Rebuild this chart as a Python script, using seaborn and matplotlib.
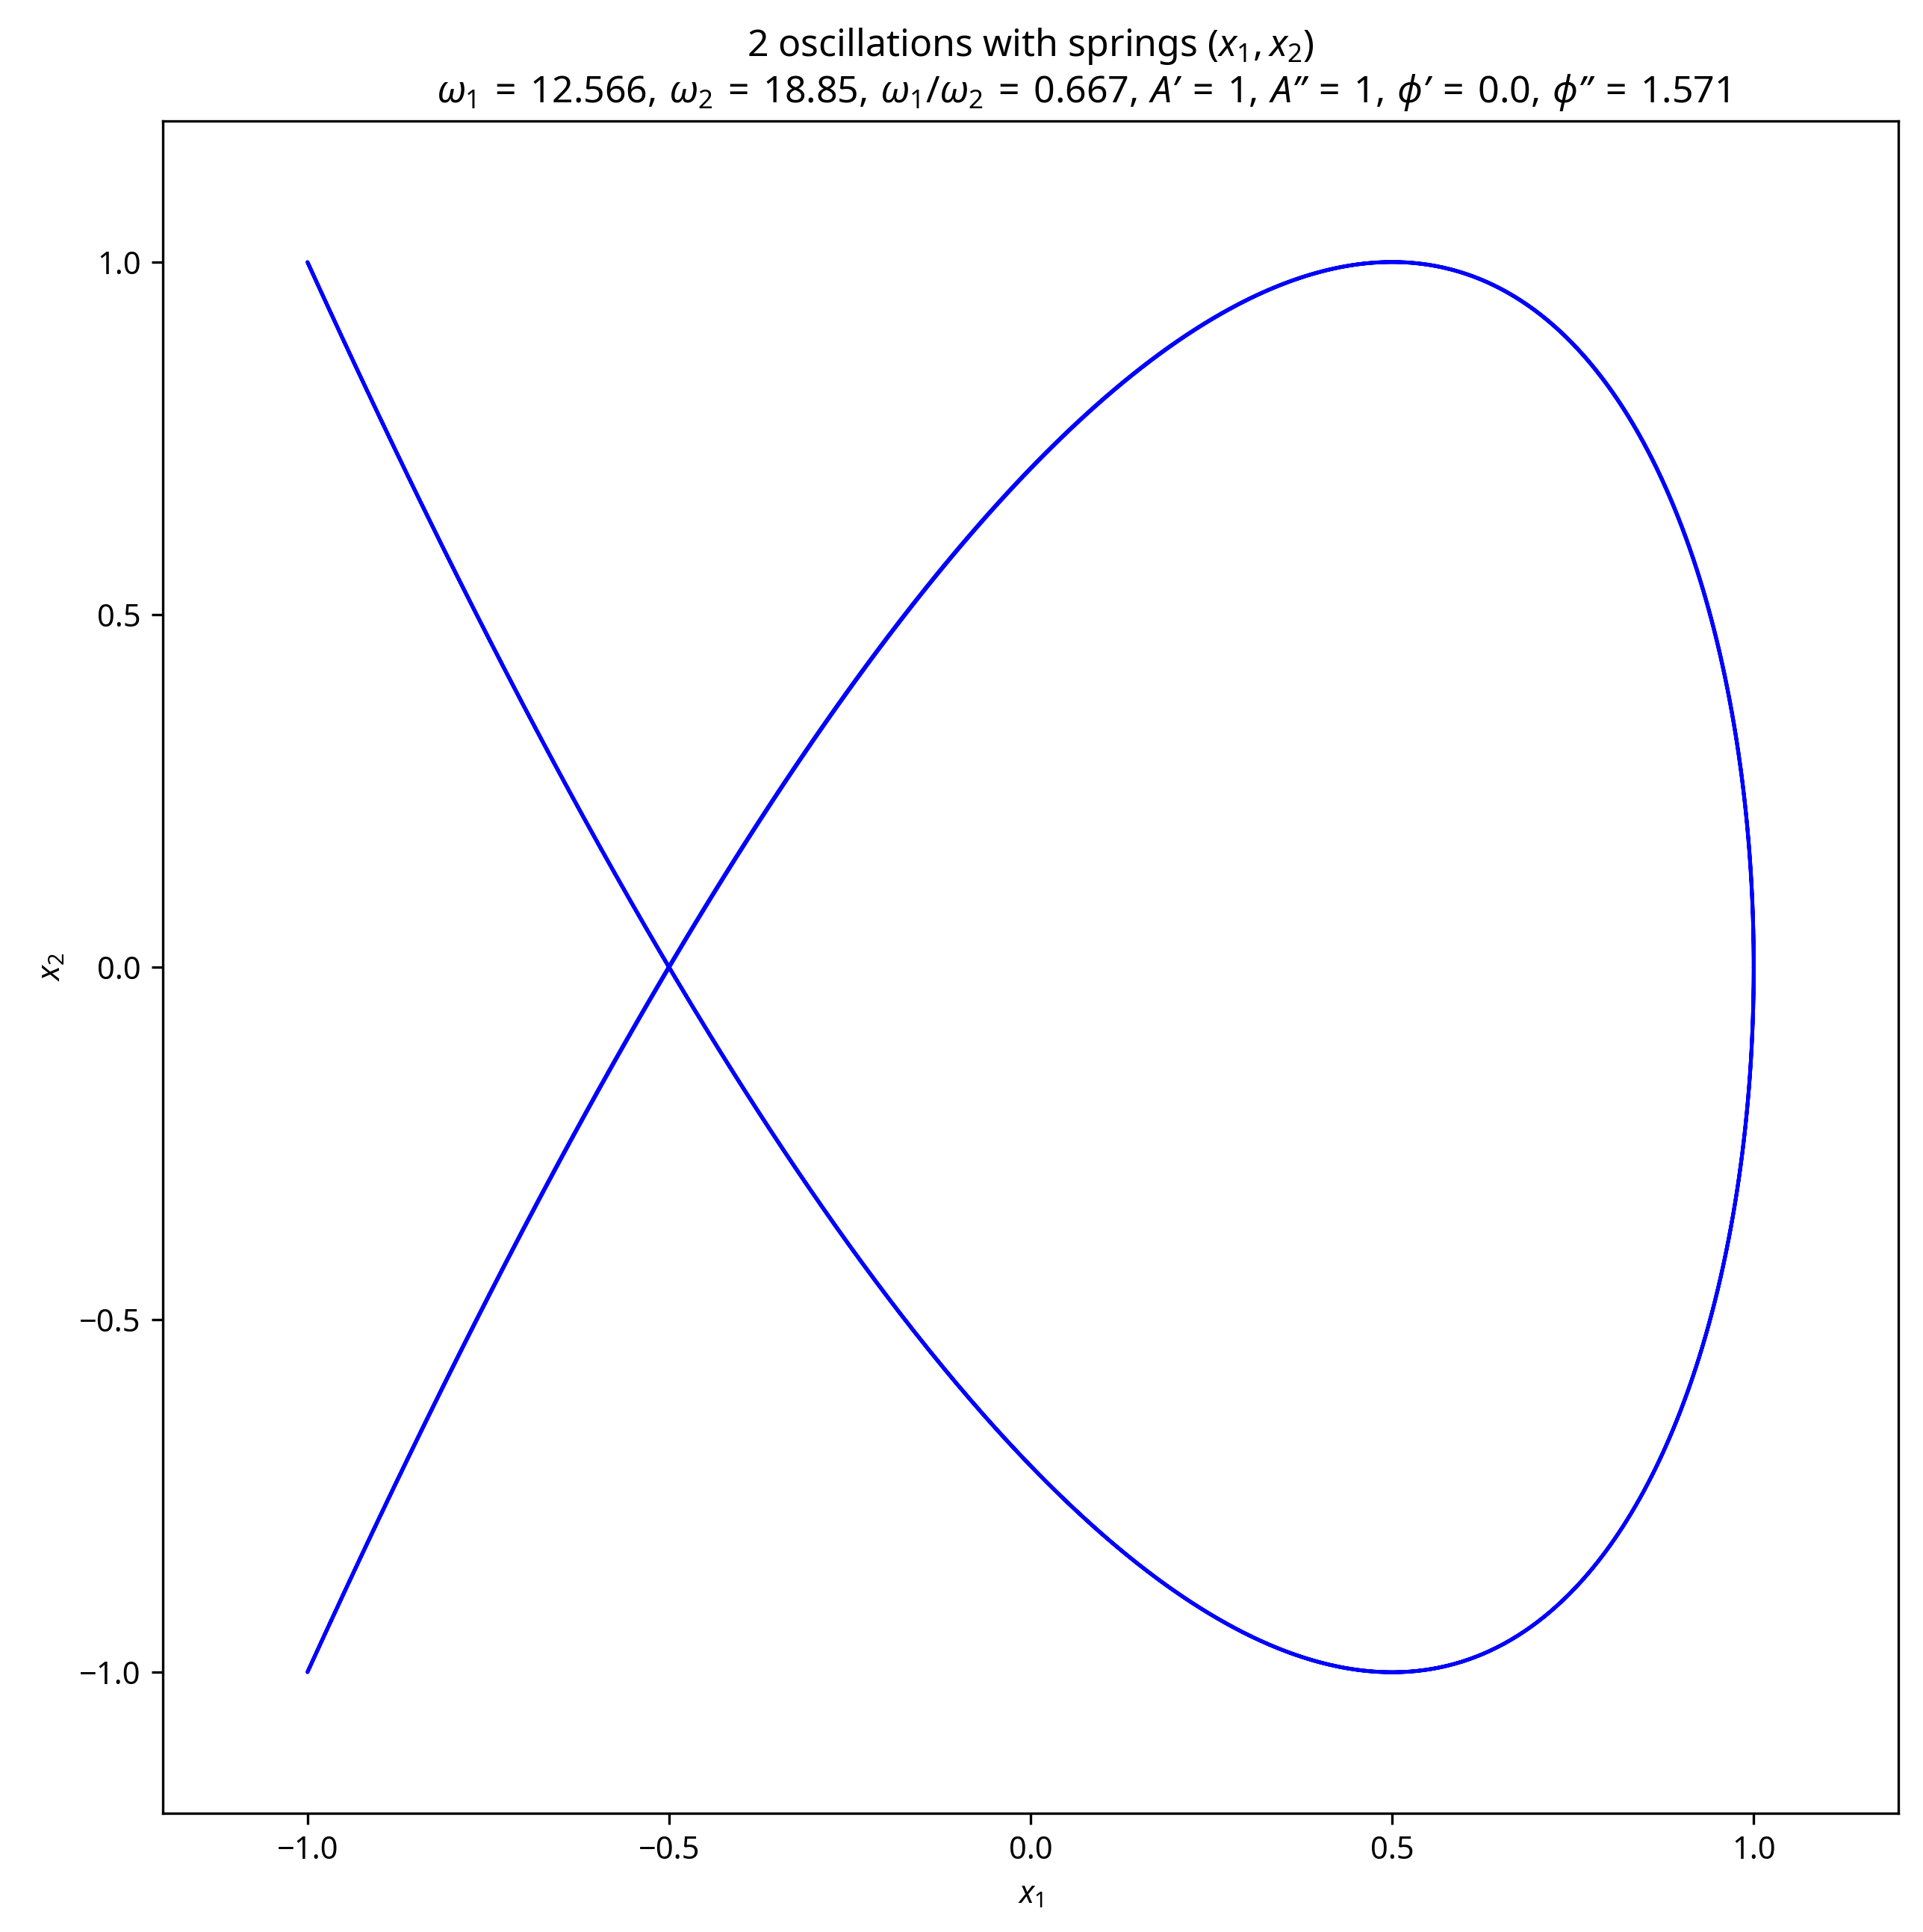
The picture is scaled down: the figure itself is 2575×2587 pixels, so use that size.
import numpy as np
import pandas as pd
import matplotlib
matplotlib.use("Agg")
import matplotlib.pyplot as plt
import seaborn as sns

# Parameters stated in the chart title
omega1 = 12.566   # rad/s (4*pi)
omega2 = 18.85    # rad/s (6*pi)
amp1 = 1          # A'
amp2 = 1          # A''
phi1 = 0.0        # phi'
phi2 = 1.571      # phi''
t_span = [0.0, 1.0]
n_samples = 2000

xticks = [-1.0, -0.5, 0.0, 0.5, 1.0]
yticks = [-1.0, -0.5, 0.0, 0.5, 1.0]

sns.set_style("ticks", {
    "axes.edgecolor": "black",
    "axes.labelcolor": "black",
    "text.color": "black",
    "xtick.color": "black",
    "ytick.color": "black",
    "axes.grid": False,
})
FONT = "Noto Sans"
plt.rcParams["font.family"] = [FONT, "DejaVu Sans"]
plt.rcParams["mathtext.fontset"] = "custom"
plt.rcParams["mathtext.rm"] = FONT
plt.rcParams["mathtext.it"] = FONT + ":italic"
plt.rcParams["mathtext.bf"] = FONT + ":bold"
plt.rcParams["axes.linewidth"] = 0.8
plt.rcParams["xtick.major.width"] = 0.8
plt.rcParams["ytick.major.width"] = 0.8
plt.rcParams["xtick.major.size"] = 3.5
plt.rcParams["ytick.major.size"] = 3.5

t = np.linspace(t_span[0], t_span[1], n_samples)
df = pd.DataFrame({
    "x1": amp1 * np.cos(omega1 * t + phi1),
    "x2": amp2 * np.cos(omega2 * t + phi2),
})

fig = plt.figure(figsize=(2575 / 300, 2587 / 300), dpi=300)
ax = fig.add_axes([218 / 2575, 1 - 2428 / 2587, (2542 - 218) / 2575, (2428 - 162) / 2587])

sns.lineplot(data=df, x="x1", y="x2", sort=False, estimator=None,
             color="blue", linewidth=1.2, ax=ax)

ax.set_xlim(-1.2, 1.2)
ax.set_ylim(-1.2, 1.2)
ax.set_xticks(xticks)
ax.set_yticks(yticks)
ax.tick_params(labelsize=10)
ax.set_xlabel("$x_1$", fontsize=10)
ax.set_ylabel("$x_2$", fontsize=10)

EQ = r"\:=\:"
C = r",\,"
P1 = "\u02b9"
P2 = "\u02ba"
title = ("2 oscillations with springs $(x_1, x_2)$\n"
         rf"$\hspace{{3.2}}\omega_1{EQ}{omega1:.3f}{C}\omega_2{EQ}{omega2:g}{C}"
         rf"\omega_1/\omega_2{EQ}{omega1 / omega2:.3f}{C}A{P1}{EQ}{amp1}{C}A{P2}{EQ}{amp2}{C}"
         rf"\phi{P1}{EQ}{phi1:.1f}{C}\phi{P2}{EQ}{phi2:.3f}$")
ax.set_title(title, fontsize=12)

fig.savefig("out.png", dpi=300)
